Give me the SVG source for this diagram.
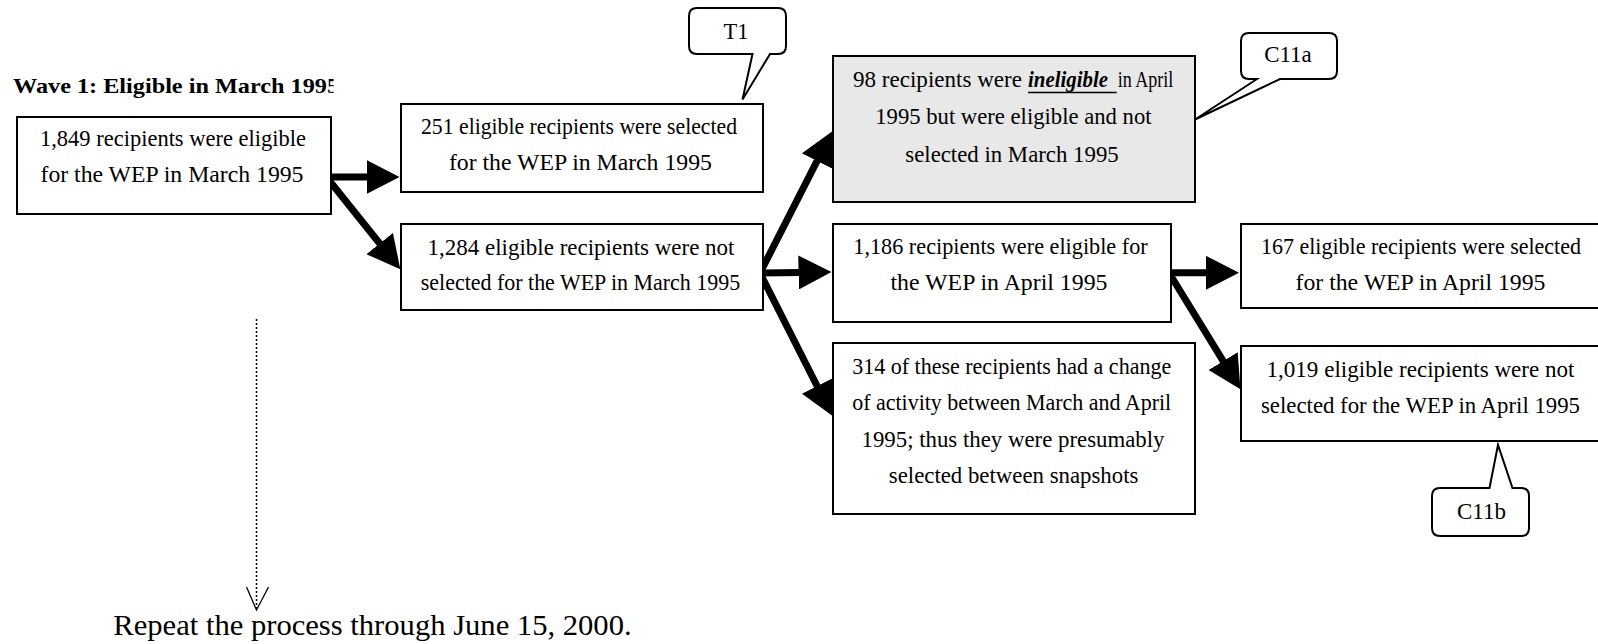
<svg xmlns="http://www.w3.org/2000/svg" width="1598" height="644" viewBox="0 0 1598 644">
<style>
.box{fill:#fff;stroke:#000;stroke-width:2}
.gray{fill:#e8e8e8}
.t{font-family:"Liberation Serif","Times New Roman",serif;font-size:23px;fill:#000}
.c{text-anchor:middle}
.title{font-family:"Liberation Serif","Times New Roman",serif;font-size:22px;font-weight:bold;fill:#000}
.big{font-family:"Liberation Serif","Times New Roman",serif;font-size:30px;fill:#000}
.call{fill:#fff;stroke:#000;stroke-width:2;stroke-linejoin:miter}
.conn{stroke:#000;stroke-width:7;fill:none;marker-end:url(#head)}
.dot{stroke:#000;stroke-width:1.5;stroke-dasharray:2 2;fill:none}
.open{stroke:#000;stroke-width:1.3;fill:none}
</style>
<defs>
<marker id="head" markerUnits="userSpaceOnUse" markerWidth="34" markerHeight="34" refX="1" refY="17" orient="auto" viewBox="0 0 34 34">
<path d="M0,0 L33,17 L0,34 Z" fill="#000"/>
</marker>
<clipPath id="titleclip"><rect x="0" y="60" width="333.5" height="50"/></clipPath>
</defs>

<g id="title">
<text class="title" x="13" y="92.5" textLength="326" lengthAdjust="spacingAndGlyphs" clip-path="url(#titleclip)">Wave 1: Eligible in March 1995</text>
</g>

<g id="connectors">
<line class="conn" x1="328" y1="177" x2="367.5" y2="177"/>
<line class="conn" x1="328" y1="179" x2="380.3" y2="244.3"/>
<line class="conn" x1="760" y1="273" x2="817.5" y2="160.1"/>
<line class="conn" x1="760" y1="273" x2="799.5" y2="272.5"/>
<line class="conn" x1="760" y1="273" x2="817.6" y2="387"/>
<line class="conn" x1="1168.5" y1="272.8" x2="1207" y2="272.8"/>
<line class="conn" x1="1168.5" y1="272" x2="1223.7" y2="361.9"/>
<line class="dot" x1="256.5" y1="319" x2="256.5" y2="608"/>
<polyline class="open" points="246.5,587 256.5,610 268.5,587"/>
</g>

<g id="n1849">
<rect class="box" x="17" y="117" width="314" height="97"/>
<text class="t c" x="173" y="145.5" textLength="266" lengthAdjust="spacingAndGlyphs">1,849 recipients were eligible</text>
<text class="t c" x="172" y="182" textLength="263" lengthAdjust="spacingAndGlyphs">for the WEP in March 1995</text>
</g>

<g id="n251">
<rect class="box" x="401" y="104" width="362" height="88"/>
<text class="t c" x="579" y="134" textLength="316" lengthAdjust="spacingAndGlyphs">251 eligible recipients were selected</text>
<text class="t c" x="580.4" y="170" textLength="263" lengthAdjust="spacingAndGlyphs">for the WEP in March 1995</text>
</g>

<g id="n1284">
<rect class="box" x="401" y="224" width="362" height="86"/>
<text class="t c" x="581" y="255" textLength="307" lengthAdjust="spacingAndGlyphs">1,284 eligible recipients were not</text>
<text class="t c" x="580.5" y="290" textLength="319.5" lengthAdjust="spacingAndGlyphs">selected for the WEP in March 1995</text>
</g>

<g id="n98">
<rect class="box gray" x="833" y="56" width="362" height="146"/>
<text class="t" x="853" y="87" textLength="169" lengthAdjust="spacingAndGlyphs">98 recipients were</text>
<text class="t" x="1028" y="87" textLength="80" lengthAdjust="spacingAndGlyphs" font-weight="bold" font-style="italic">ineligible</text>
<line x1="1028" y1="92.5" x2="1116.7" y2="92.5" stroke="#000" stroke-width="1.6"/>
<text class="t" x="1117.7" y="87" textLength="55.6" lengthAdjust="spacingAndGlyphs">in April</text>
<text class="t c" x="1013.4" y="123.5" textLength="276.3" lengthAdjust="spacingAndGlyphs">1995 but were eligible and not</text>
<text class="t c" x="1012" y="161.5" textLength="213.4" lengthAdjust="spacingAndGlyphs">selected in March 1995</text>
</g>

<g id="n1186">
<rect class="box" x="833" y="224" width="338" height="98"/>
<text class="t c" x="1000.5" y="254" textLength="294.4" lengthAdjust="spacingAndGlyphs">1,186 recipients were eligible for</text>
<text class="t c" x="999" y="289.5" textLength="217" lengthAdjust="spacingAndGlyphs">the WEP in April 1995</text>
</g>

<g id="n314">
<rect class="box" x="833" y="343" width="362" height="171"/>
<text class="t c" x="1011.7" y="373.5" textLength="319" lengthAdjust="spacingAndGlyphs">314 of these recipients had a change</text>
<text class="t c" x="1011.7" y="410" textLength="319" lengthAdjust="spacingAndGlyphs">of activity between March and April</text>
<text class="t c" x="1013" y="446.5" textLength="303" lengthAdjust="spacingAndGlyphs">1995; thus they were presumably</text>
<text class="t c" x="1013.6" y="483" textLength="249.6" lengthAdjust="spacingAndGlyphs">selected between snapshots</text>
</g>

<g id="n167">
<rect class="box" x="1241" y="224" width="365" height="84"/>
<text class="t c" x="1421" y="254" textLength="320" lengthAdjust="spacingAndGlyphs">167 eligible recipients were selected</text>
<text class="t c" x="1420.5" y="289.5" textLength="250" lengthAdjust="spacingAndGlyphs">for the WEP in April 1995</text>
</g>

<g id="n1019">
<rect class="box" x="1241" y="346" width="365" height="95"/>
<text class="t c" x="1420.5" y="377" textLength="308" lengthAdjust="spacingAndGlyphs">1,019 eligible recipients were not</text>
<text class="t c" x="1420.5" y="413" textLength="319" lengthAdjust="spacingAndGlyphs">selected for the WEP in April 1995</text>
</g>

<g id="cT1">
<path class="call" d="M752.5,54 L742.5,99.5 L770,54 L778,54 Q786,54 786,46 L786,16 Q786,8 778,8 L697,8 Q689,8 689,16 L689,46 Q689,54 697,54 Z"/>
<text class="t c" x="736" y="38.5" textLength="25" lengthAdjust="spacingAndGlyphs">T1</text>
</g>

<g id="cC11a">
<path class="call" d="M1257,79 L1195,119.5 L1280,79 L1329,79 Q1337,79 1337,71 L1337,41 Q1337,33 1329,33 L1249,33 Q1241,33 1241,41 L1241,71 Q1241,79 1249,79 Z"/>
<text class="t c" x="1288" y="62" textLength="47.6" lengthAdjust="spacingAndGlyphs">C11a</text>
</g>

<g id="cC11b">
<path class="call" d="M1489.5,488 L1498,445 L1512.5,488 L1521,488 Q1529,488 1529,496 L1529,528 Q1529,536 1521,536 L1440,536 Q1432,536 1432,528 L1432,496 Q1432,488 1440,488 Z"/>
<text class="t c" x="1481.4" y="518.5" textLength="49" lengthAdjust="spacingAndGlyphs">C11b</text>
</g>

<g id="repeat">
<text class="big" x="113.3" y="635" textLength="518.3" lengthAdjust="spacingAndGlyphs">Repeat the process through June 15, 2000.</text>
</g>
</svg>
